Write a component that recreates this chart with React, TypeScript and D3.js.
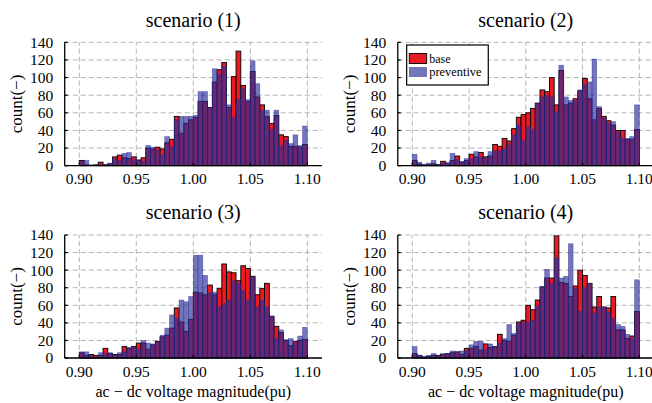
import React from 'react';
import * as d3 from 'd3';

const BIN_COUNT = 48;
const X_MIN = 0.9;
const X_MAX = 1.1;
const X_TICKS = [0.9, 0.95, 1.0, 1.05, 1.1];
const Y_TICKS = [0, 20, 40, 60, 80, 100, 120, 140];
const TITLES = ['scenario (1)', 'scenario (2)', 'scenario (3)', 'scenario (4)'];
const SERIES_NAMES = ['base', 'preventive'];
const Y_LABEL = 'count(\u2212)';
const X_LABEL = 'ac \u2212 dc voltage magnitude(pu)';

const S1_BASE = [6, 1, 0, 1, 4, 1, 2, 10, 12, 9, 8, 10, 6, 9, 20, 19, 21, 19, 26, 30, 56, 37, 48, 52,
  55, 73, 73, 66, 95, 109, 117, 66, 101, 130, 91, 73, 107, 78, 69, 56, 48, 57, 35, 33, 22, 22, 21, 24];
const S1_PREV = [5, 6, 1, 0, 1, 1, 3, 8, 6, 14, 15, 7, 7, 5, 23, 21, 18, 12, 33, 22, 52, 56, 56, 56,
  57, 84, 84, 66, 110, 104, 113, 69, 55, 75, 88, 75, 119, 93, 63, 63, 41, 63, 23, 29, 25, 35, 23, 45];

const S2_BASE = [6, 2, 1, 1, 2, 1, 5, 2, 6, 11, 4, 6, 13, 10, 15, 10, 11, 24, 22, 31, 28, 42, 55, 58,
  60, 65, 71, 86, 84, 100, 69, 108, 69, 71, 76, 85, 99, 76, 52, 65, 56, 51, 46, 40, 40, 30, 30, 41];
const S2_PREV = [13, 4, 1, 3, 6, 1, 3, 4, 14, 7, 5, 8, 8, 16, 10, 9, 16, 17, 17, 19, 25, 35, 46, 29,
  44, 41, 70, 78, 80, 78, 61, 114, 78, 74, 74, 86, 92, 95, 121, 67, 54, 48, 50, 38, 31, 31, 33, 69];

const S3_BASE = [6, 3, 4, 3, 3, 11, 5, 4, 4, 13, 11, 13, 17, 17, 10, 15, 19, 24, 26, 34, 57, 41, 30, 44,
  75, 74, 72, 83, 72, 79, 107, 98, 97, 88, 105, 102, 93, 72, 79, 85, 47, 36, 29, 20, 14, 19, 20, 21];
const S3_PREV = [7, 7, 3, 1, 6, 5, 6, 3, 6, 7, 12, 12, 10, 20, 17, 16, 18, 26, 34, 49, 45, 66, 64, 70,
  117, 117, 94, 74, 75, 58, 62, 66, 88, 85, 77, 66, 92, 58, 66, 58, 48, 22, 32, 21, 22, 17, 25, 35];

const S4_BASE = [5, 3, 1, 2, 3, 3, 4, 5, 6, 7, 4, 11, 11, 13, 9, 16, 12, 13, 27, 20, 19, 26, 41, 43,
  60, 55, 66, 81, 91, 91, 139, 86, 85, 70, 82, 100, 94, 85, 58, 70, 58, 57, 70, 32, 32, 22, 25, 53];
const S4_PREV = [13, 3, 2, 3, 5, 2, 5, 5, 8, 6, 8, 8, 15, 19, 19, 10, 16, 13, 17, 22, 38, 28, 39, 41,
  41, 43, 60, 81, 101, 85, 114, 91, 93, 130, 79, 53, 80, 85, 51, 58, 58, 52, 45, 38, 36, 27, 22, 89];

const BASE_SERIES = [S1_BASE, S2_BASE, S3_BASE, S4_BASE];
const PREV_SERIES = [S1_PREV, S2_PREV, S3_PREV, S4_PREV];

const LAYOUT = [
  { x90: 79.3, x110: 307.3, y0: 165.7, y140: 42.3, legend: false, xlabel: false },
  { x90: 412.3, x110: 639.3, y0: 165.7, y140: 42.3, legend: true, xlabel: false },
  { x90: 79.3, x110: 307.3, y0: 358, y140: 235, legend: false, xlabel: true },
  { x90: 412.3, x110: 639.3, y0: 358, y140: 235, legend: false, xlabel: true },
];

const FONT = "'Liberation Serif', 'Times New Roman', serif";
const RED = '#ea1a22';
const BLUE = 'rgb(40,44,150)';
const BLUE_ALPHA = 0.65;
const GRID = '#b3b3b3';

function Panel({ idx }: { idx: number }) {
  const L = LAYOUT[idx];
  const x = d3.scaleLinear().domain([X_MIN, X_MAX]).range([L.x90, L.x110]);
  const y = d3.scaleLinear().domain([0, 140]).range([L.y0, L.y140]);
  const left = x(0.8872);
  const right = x(1.1128);
  const edges = d3.range(BIN_COUNT + 1).map((i) => X_MIN + (i * (X_MAX - X_MIN)) / BIN_COUNT);
  const base = BASE_SERIES[idx];
  const prev = PREV_SERIES[idx];
  const cx = (left + right) / 2;
  const cy = (y(0) + y(140)) / 2;
  return (
    <g>
      {Y_TICKS.map((t) => (
        <line key={'gy' + t} x1={left} x2={right} y1={y(t)} y2={y(t)} stroke={GRID} strokeWidth={1} strokeDasharray="5,3" />
      ))}
      {X_TICKS.map((t) => (
        <line key={'gx' + t} x1={x(t)} x2={x(t)} y1={y(0)} y2={y(140)} stroke={GRID} strokeWidth={1} strokeDasharray="5,3" />
      ))}
      {base.map((v, i) => (
        <rect key={'b' + i} x={x(edges[i])} y={y(v)} width={x(edges[i + 1]) - x(edges[i])} height={y(0) - y(v)}
          fill={RED} stroke="#000" strokeWidth={0.9} />
      ))}
      {prev.map((v, i) => (
        <rect key={'p' + i} x={x(edges[i])} y={y(v)} width={x(edges[i + 1]) - x(edges[i])} height={y(0) - y(v)}
          fill={BLUE} fillOpacity={BLUE_ALPHA} stroke={BLUE} strokeOpacity={0.6} strokeWidth={0.6} />
      ))}
      <line x1={left} x2={left} y1={y(0)} y2={y(140)} stroke="#000" strokeWidth={1.3} />
      <line x1={left} x2={right} y1={y(0)} y2={y(0)} stroke="#000" strokeWidth={1.3} />
      {Y_TICKS.map((t) => (
        <g key={'ty' + t}>
          <line x1={left} x2={left + 3} y1={y(t)} y2={y(t)} stroke="#000" strokeWidth={1.2} />
          <text x={left - 11.5} y={y(t)} dy="0.35em" textAnchor="end" fontFamily={FONT} fontSize={15.5} fill="#000">{t}</text>
        </g>
      ))}
      {X_TICKS.map((t) => (
        <g key={'tx' + t}>
          <line x1={x(t)} x2={x(t)} y1={y(0)} y2={y(0) - 3} stroke="#000" strokeWidth={1.2} />
          <text x={x(t)} y={y(0) + 18.7} textAnchor="middle" fontFamily={FONT} fontSize={15.5} fill="#000">{d3.format('.2f')(t)}</text>
        </g>
      ))}
      <text x={cx} y={y(140) - 15.8} textAnchor="middle" fontFamily={FONT} fontSize={20} fill="#000">{TITLES[idx]}</text>
      <text transform={`translate(${left - 43.2},${cy}) rotate(-90)`} textAnchor="middle" fontFamily={FONT} fontSize={17} fill="#000">{Y_LABEL}</text>
      {L.xlabel && (
        <text x={cx} y={y(0) + 38.5} textAnchor="middle" fontFamily={FONT} fontSize={16} fill="#000">{X_LABEL}</text>
      )}
      {L.legend && (
        <g>
          <rect x={left + 8.9} y={y(140) + 2.7} width={81.6} height={40} fill="#fff" stroke="#000" strokeWidth={1.2} />
          <rect x={left + 11.5} y={y(140) + 11.2} width={17.4} height={10} fill={RED} stroke="#000" strokeWidth={0.9} />
          <rect x={left + 11.5} y={y(140) + 25} width={17.4} height={9.4} fill={BLUE} fillOpacity={BLUE_ALPHA} stroke={BLUE} strokeOpacity={0.6} strokeWidth={0.6} />
          <text x={left + 31.5} y={y(140) + 20.2} fontFamily={FONT} fontSize={12} fill="#000">{SERIES_NAMES[0]}</text>
          <text x={left + 31.5} y={y(140) + 34} fontFamily={FONT} fontSize={12.4} fill="#000">{SERIES_NAMES[1]}</text>
        </g>
      )}
    </g>
  );
}

export default function App() {
  return (
    <svg width={652} height={403} style={{ position: 'absolute', left: 0, top: 0, background: '#fff' }}>
      <rect x={0} y={0} width={652} height={403} fill="#fff" />
      {LAYOUT.map((_, i) => (
        <Panel key={i} idx={i} />
      ))}
    </svg>
  );
}
